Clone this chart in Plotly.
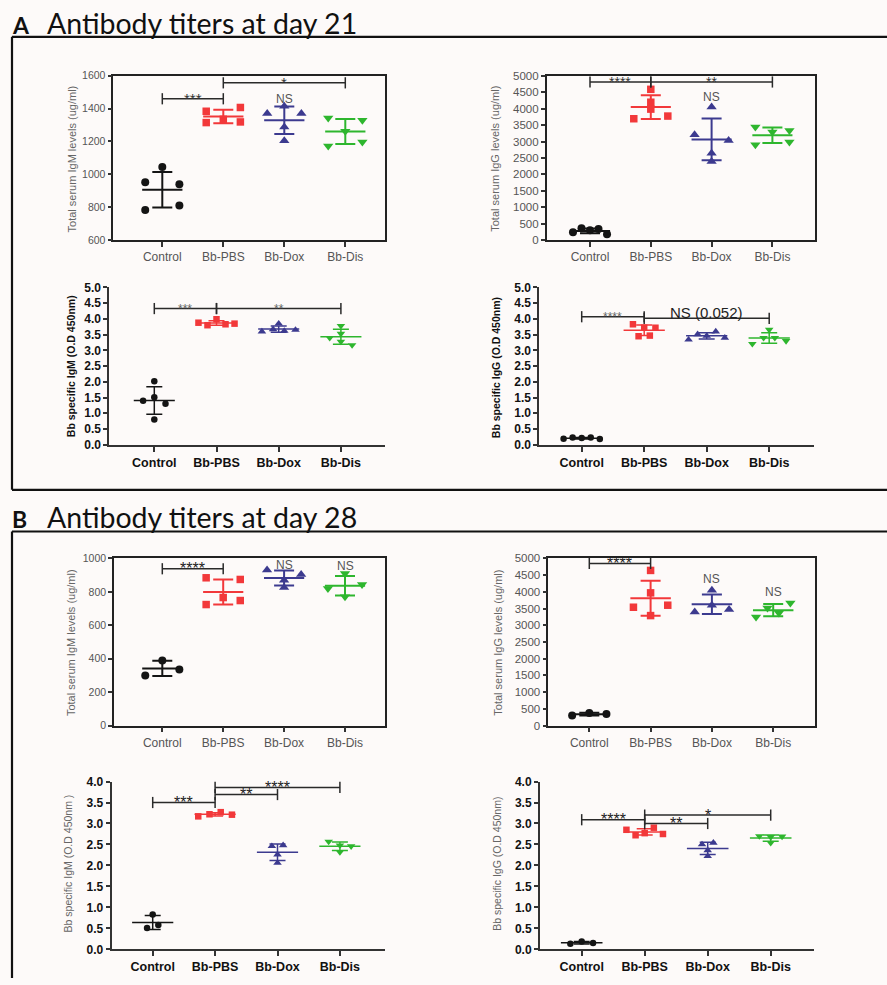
import numpy as np
import plotly.graph_objects as go

W, H = 887, 985
GROUPS = ["Control", "Bb-PBS", "Bb-Dox", "Bb-Dis"]
COLORS = ["#141414", "#f2383a", "#3c3a8f", "#2eb62e"]
SYMBOLS = ["circle", "square", "triangle-up", "triangle-down"]

# ---------------- data ----------------
# Day 21
d21_total_igm = [[783, 810, 952, 940, 1045],
                 [1315, 1335, 1319, 1384, 1407],
                 [1370, 1370, 1415, 1288, 1205],
                 [1172, 1197, 1262, 1343, 1329]]
d21_total_igg = [[234, 356, 295, 336, 173],
                 [3697, 3778, 3990, 4200, 4593],
                 [3208, 3035, 4053, 2648, 2393],
                 [2902, 2984, 3442, 3289, 3340]]
d21_bb_igm = [[1.40, 1.51, 1.30, 2.02, 0.80],
              [3.88, 3.80, 3.99, 3.83, 3.85],
              [3.60, 3.67, 3.62, 3.65, 3.85],
              [3.78, 3.53, 3.40, 3.28, 3.17]]
d21_bb_igg = [[0.19, 0.23, 0.21, 0.23, 0.18],
              [3.83, 3.72, 3.72, 3.45, 3.47],
              [3.34, 3.51, 3.46, 3.60, 3.40],
              [3.21, 3.40, 3.40, 3.30, 3.66]]
# Day 28
d28_total_igm = [[300, 336, 390],
                 [724, 766, 748, 884, 874],
                 [930, 870, 904, 826],
                 [910, 820, 844, 770]]
d28_total_igg = [[300, 380, 350],
                 [4640, 3970, 3540, 3600, 3290],
                 [4050, 3400, 3600, 3470],
                 [3250, 3520, 3370, 3670]]
d28_bb_igm = [[0.51, 0.58, 0.83],
              [3.17, 3.22, 3.27, 3.21],
              [2.46, 2.48, 2.26, 2.06],
              [2.57, 2.48, 2.46, 2.32]]
d28_bb_igg = [[0.135, 0.19, 0.15],
              [2.85, 2.72, 2.77, 2.90, 2.75],
              [2.50, 2.54, 2.36, 2.22],
              [2.70, 2.68, 2.69, 2.54]]

# significance brackets: (from group, to group, level, label)
sig_d21_total_igm = [(0, 1, 1460, "***"), (1, 3, 1557, "*")]
sig_d21_total_igg = [(0, 1, 4817, "****"), (1, 3, 4817, "**")]
sig_d21_bb_igm = [(0, 1, 4.33, "***"), (1, 3, 4.33, "**")]
sig_d21_bb_igg = [(0, 1, 4.07, "****"), (1, 3, 4.02, "NS (0.052)")]
sig_d28_total_igm = [(0, 1, 938, "****")]
sig_d28_total_igg = [(0, 1, 4850, "****")]
sig_d28_bb_igm = [(0, 1, 3.50, "***"), (1, 2, 3.69, "**"), (1, 3, 3.86, "****")]
sig_d28_bb_igg = [(0, 1, 3.09, "****"), (1, 2, 3.00, "**"), (1, 3, 3.20, "*")]
# "NS" labels above single groups: (group, level)
ns_d21_total_igm = [(2, 1457)]
ns_d21_total_igg = [(2, 4359)]
ns_d28_total_igm = [(2, 960), (3, 956)]
ns_d28_total_igg = [(2, 4380), (3, 4000)]

# ---------------- layout of panels (pixels of the target picture) ----------------
panels = [
    dict(data=d21_total_igm, sig=sig_d21_total_igm, ns=ns_d21_total_igm, kind="top",
         box=(113.3, 385, 77.3, 241), yr=(600, 1600), dt=200, c0=162.3, cs=61.0,
         title="Total serum IgM levels (ug/ml)", tp=(71.7, 160), ytf=10.5, star=(15, "#333")),
    dict(data=d21_total_igg, sig=sig_d21_total_igg, ns=ns_d21_total_igg, kind="top",
         box=(546.7, 814.7, 77.5, 241), yr=(0, 5000), dt=500, c0=590.0, cs=60.8,
         title="Total serum IgG levels (ug/ml)", tp=(495, 160), ytf=11.5, star=(14, "#333")),
    dict(data=d21_bb_igm, sig=sig_d21_bb_igm, ns=[], kind="bot",
         box=(109.3, 385, 288.3, 445), yr=(0, 5), dt=0.5, c0=154.3, cs=62.2,
         title="<b>Bb specific IgM (O.D 450nm)</b>", tp=(71.7, 367), tcol="#111", ytf=12, star=(12, "#666")),
    dict(data=d21_bb_igg, sig=sig_d21_bb_igg, ns=[], kind="bot",
         box=(539.3, 813.7, 288.3, 445), yr=(0, 5), dt=0.5, c0=581.7, cs=62.5,
         title="<b>Bb specific IgG (O.D 450nm)</b>", tp=(496.7, 368), tcol="#111", ytf=12, star=(12, "#666")),
    dict(data=d28_total_igm, sig=sig_d28_total_igm, ns=ns_d28_total_igm, kind="top",
         box=(114.0, 385, 558.3, 725), yr=(0, 1000), dt=200, c0=162.3, cs=60.9,
         title="Total serum IgM levels (ug/ml)", tp=(71.7, 642), ytf=10.5, star=(16, "#222")),
    dict(data=d28_total_igg, sig=sig_d28_total_igg, ns=ns_d28_total_igg, kind="top",
         box=(548.3, 814.7, 558.3, 725), yr=(0, 5000), dt=500, c0=589.3, cs=61.3,
         title="Total serum IgG levels (ug/ml)", tp=(498.3, 642), ytf=11.5, star=(16, "#222")),
    dict(data=d28_bb_igm, sig=sig_d28_bb_igm, ns=[], kind="bot",
         box=(111.7, 385, 780.7, 948), yr=(0, 4), dt=0.5, c0=152.7, cs=62.4,
         title="Bb specific IgM (O.D 450nm )", tp=(68.3, 862), tcol="#666", ytf=12, star=(16, "#222")),
    dict(data=d28_bb_igg, sig=sig_d28_bb_igg, ns=[], kind="bot",
         box=(540.0, 814.0, 780.7, 948), yr=(0, 4), dt=0.5, c0=581.7, cs=63.0,
         title="Bb specific IgG (O.D 450nm)", tp=(496.7, 863), tcol="#666", ytf=12, star=(16, "#222")),
]

BG = "#fdfaf9"
FONT = "Liberation Sans, Arial, sans-serif"

# the photographed page shows the figure vertically as y_pic = 8.75 + 0.9825 * y_fig
VOFF, VSCALE = 8.75, 0.9825


def px2x(p):
    return p / W


def px2y(p):
    return 1 - ((p - VOFF) / VSCALE) / H


def cluster_offsets(vals, ppu, dia, step, hmax):
    n = len(vals)
    order = sorted(range(n), key=lambda i: vals[i])
    clusters, cur = [], [order[0]]
    for a, b in zip(order[:-1], order[1:]):
        if (vals[b] - vals[a]) * ppu < dia:
            cur.append(b)
        else:
            clusters.append(cur)
            cur = [b]
    clusters.append(cur)
    offs = [0.0] * n
    for c in clusters:
        m = len(c)
        if m < 2:
            continue
        c = sorted(c)
        h = min(step * (m - 1) / 2, hmax)
        for k, i in enumerate(c):
            offs[i] = -h + 2 * h * k / (m - 1)
    return offs


fig = go.Figure()
annotations = []
shapes = []

for pi, p in enumerate(panels):
    ax = "" if pi == 0 else str(pi + 1)
    xref, yref = "x" + ax, "y" + ax
    xl, xr, yt, yb = p["box"]
    y0, y1 = p["yr"]
    ppu = (yb - yt) / (y1 - y0)
    top = p["kind"] == "top"
    xrange = [(xl - p["c0"]) / p["cs"], (xr - p["c0"]) / p["cs"]]

    msize = [8, 7.5, 9, 9] if top else [6.5, 6.5, 7.5, 7.5]
    dia = 6.5 if top else 4.0
    step, hmax = (0.56, 0.28) if top else (0.18, 0.29)
    lw = 2.0 if top else 1.5
    mw = 0.33
    capw = 10 if top else 8

    for g, vals in enumerate(p["data"]):
        offs = cluster_offsets(vals, ppu, dia, step, hmax)
        xs = [g + o for o in offs]
        fig.add_trace(go.Scatter(
            x=xs, y=vals, mode="markers", xaxis=xref, yaxis=yref, showlegend=False,
            marker=dict(symbol=SYMBOLS[g], size=msize[g], color=COLORS[g], line=dict(width=0)),
            cliponaxis=False, hoverinfo="skip"))
        m = float(np.mean(vals))
        sd = float(np.std(vals, ddof=1))
        fig.add_trace(go.Scatter(
            x=[g - mw, g + mw], y=[m, m], mode="lines", xaxis=xref, yaxis=yref,
            showlegend=False, line=dict(color=COLORS[g], width=lw), hoverinfo="skip"))
        fig.add_trace(go.Scatter(
            x=[g], y=[m], mode="markers", xaxis=xref, yaxis=yref, showlegend=False,
            marker=dict(size=1, opacity=0),
            error_y=dict(type="data", array=[sd], visible=True, width=capw,
                         thickness=lw, color=COLORS[g]), hoverinfo="skip"))

    # significance brackets
    sfs, scol = p["star"]
    for (a, b, lvl, lab) in p["sig"]:
        fig.add_trace(go.Scatter(
            x=[a, b], y=[lvl, lvl], mode="lines+markers", xaxis=xref, yaxis=yref,
            showlegend=False, cliponaxis=False, hoverinfo="skip",
            line=dict(color="#2a2a2a", width=1.5),
            marker=dict(symbol="line-ns-open", size=8, line=dict(color="#2a2a2a", width=1.5))))
        if lab.startswith("NS"):
            annotations.append(dict(x=(a + b) / 2, y=lvl, xref=xref, yref=yref, text=lab,
                                    showarrow=False, yanchor="middle", yshift=6,
                                    font=dict(family=FONT, size=15, color="#222")))
        else:
            annotations.append(dict(x=(a + b) / 2, y=lvl, xref=xref, yref=yref, text=lab,
                                    showarrow=False, yanchor="middle", yshift=0,
                                    font=dict(family=FONT, size=sfs, color=scol)))
    for (g, lvl) in p["ns"]:
        annotations.append(dict(x=g, y=lvl, xref=xref, yref=yref, text="NS", showarrow=False,
                                yanchor="middle", font=dict(family=FONT, size=12, color="#555")))

    # axis title
    annotations.append(dict(x=px2x(p["tp"][0]), y=px2y(p["tp"][1]), xref="paper", yref="paper",
                            text=p["title"], textangle=-90, showarrow=False,
                            xanchor="center", yanchor="middle",
                            font=dict(family=FONT, size=11 if top else 10.5,
                                      color=p.get("tcol", "#666"))))

    tickv = list(np.round(np.arange(y0, y1 + p["dt"] / 2, p["dt"]), 3))
    if top:
        tfont_y = dict(family=FONT, size=p["ytf"], color="#555")
        tfont_x = dict(family=FONT, size=12, color="#555")
        line = dict(showline=True, linecolor="#222", linewidth=1.5, mirror=True)
    else:
        tfont_y = dict(family=FONT, size=p["ytf"], color="#111", weight="bold")
        tfont_x = dict(family=FONT, size=12.5, color="#111", weight="bold")
        line = dict(showline=True, linecolor="#333", linewidth=2, mirror=False)

    fig.update_layout(**{
        "xaxis" + ax: dict(domain=[px2x(xl), px2x(xr)], range=xrange, anchor=yref,
                           tickvals=[0, 1, 2, 3], ticktext=GROUPS, ticks="outside",
                           ticklen=5, tickwidth=1.5, tickcolor="#333", tickfont=tfont_x,
                           showgrid=False, zeroline=False, fixedrange=True, **line),
        "yaxis" + ax: dict(domain=[px2y(yb), px2y(yt)], range=[y0, y1], anchor=xref,
                           tickvals=tickv, tickformat=".1f" if not top else "d",
                           ticks="outside", ticklen=4, tickwidth=1.5, tickcolor="#333",
                           tickfont=tfont_y, showgrid=False, zeroline=False,
                           fixedrange=True, **line),
    })

# frames around sections A and B (kept inside the page)
FR = dict(color="#111", width=2.2)
for (xa, ya, xb, yb_) in [(12, 38.5, W, 38.5), (12, 38.5, 12, 490), (12, 490, W, 490),
                          (12, 531.5, W, 531.5), (12, 531.5, 12, 985)]:
    shapes.append(dict(type="line", xref="paper", yref="paper", x0=px2x(xa), y0=max(px2y(ya), 0),
                       x1=px2x(xb), y1=max(px2y(yb_), 0), line=FR))

# section headers
for lab, txt, yc in [("A", "Antibody titers at day 21", 25), ("B", "Antibody titers at day 28", 517.5)]:
    annotations.append(dict(x=px2x(10), y=px2y(yc + 2), xref="paper", yref="paper", text="<b>" + lab + "</b>",
                            showarrow=False, xanchor="left", yanchor="middle",
                            font=dict(family="Lato, sans-serif", size=23, color="#111")))
    annotations.append(dict(x=px2x(45), y=px2y(yc), xref="paper", yref="paper", text=txt,
                            showarrow=False, xanchor="left", yanchor="middle",
                            font=dict(family="Lato, sans-serif", size=28.5, color="#111")))

fig.update_layout(width=W, height=H, margin=dict(l=0, r=0, t=0, b=0), autosize=False,
                  paper_bgcolor=BG, plot_bgcolor=BG, showlegend=False,
                  annotations=annotations, shapes=shapes)

fig.write_html("out.html", config={"displayModeBar": False},
               post_script="document.body.style.margin='0';document.body.style.overflow='hidden';"
                           "document.documentElement.style.background='" + BG + "';")
